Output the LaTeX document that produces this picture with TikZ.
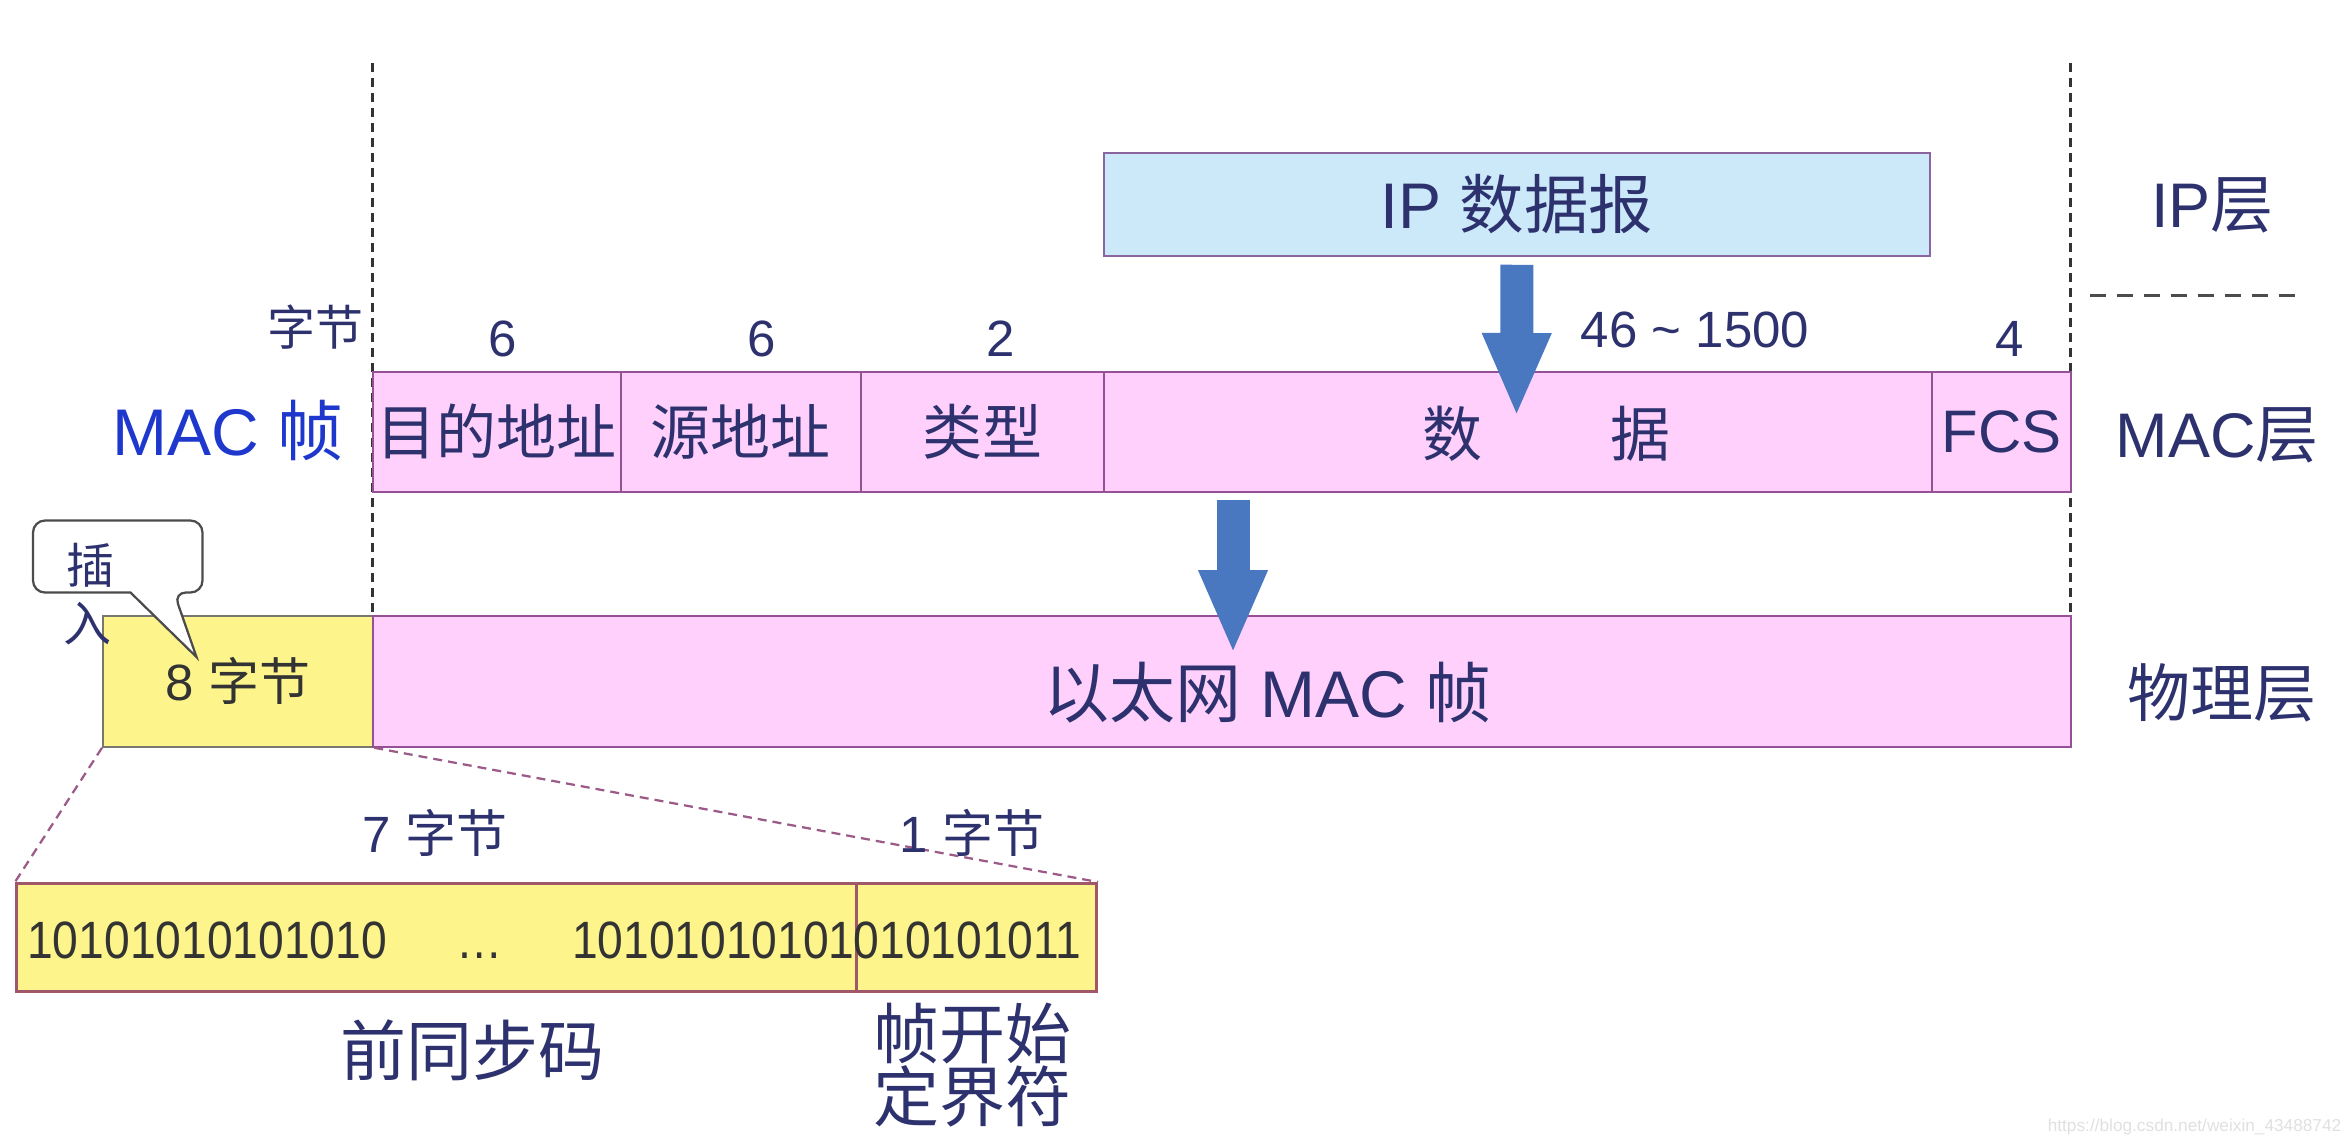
\documentclass[tikz,border=0pt]{standalone}
\usepackage{fontspec}
\setmainfont{Liberation Sans}
\newfontfamily\zh{Noto Sans CJK SC}
\newfontfamily\bitfont[FakeStretch=0.88]{Liberation Sans}
\usetikzlibrary{arrows.meta}
\newcommand{\fsz}[1]{\fontsize{#1}{#1}\selectfont}
\definecolor{navy}{RGB}{45,50,110}
\definecolor{macblue}{RGB}{30,55,205}
\definecolor{macpink}{RGB}{255,208,252}
\definecolor{macline}{RGB}{150,80,150}
\definecolor{ipblue}{RGB}{204,233,250}
\definecolor{ipline}{RGB}{140,100,160}
\definecolor{preyellow}{RGB}{253,245,140}
\definecolor{preline}{RGB}{120,120,110}
\definecolor{bitline}{RGB}{160,88,104}
\definecolor{arrowblue}{RGB}{74,120,192}
\definecolor{zoomline}{RGB}{155,90,135}
\tikzset{
  field/.style={draw=macline, fill=macpink, line width=1.5pt, anchor=north west,
    inner sep=0pt, minimum height=80pt, text=navy, font=\fsz{40}\zh},
  txt/.style={text=navy, inner sep=0pt},
  num/.style={txt, font=\fsz{34}},
  layer/.style={txt, font=\fsz{42}},
  bits/.style={text=black!80, inner sep=0pt, anchor=base, font=\fsz{35}\bitfont},
  bigarrow/.style={arrowblue, line width=22pt, -{Triangle[width=42pt,length=56pt]}},
  vdash/.style={black!80, line width=2pt, dash pattern=on 6pt off 4pt},
  zoomdash/.style={zoomline, line width=1.5pt, dash pattern=on 6pt off 4pt},
}
\begin{document}
\begin{tikzpicture}[x=1pt,y=-1pt]
\useasboundingbox (0,0) rectangle (1567.3,763.3);
% layer borders
\draw[vdash] (248,42) -- (248,410);
\draw[vdash] (1380,42) -- (1380,410);
\draw[black!70, line width=1.5pt, dash pattern=on 11pt off 7pt] (1393,197) -- (1530,197);
% IP layer
\node[draw=ipline, fill=ipblue, line width=1.5pt, anchor=north west, inner sep=0pt,
  minimum width=551pt, minimum height=69pt, text=navy, font=\fsz{43}] (ip) at (735,101) {IP {\zh 数据报}};
% MAC frame
\node[field, minimum width=165pt] (dst) at (248,247) {目的地址};
\node[field, minimum width=160pt] (src) at (413,247) {源地址};
\node[field, minimum width=162pt] (type) at (573,247) {类型};
\node[field, minimum width=552pt] (data) at (735,247) {};
\node[field, minimum width=93pt, font=\fsz{40}] (fcs) at (1287,247) {FCS};
\node[txt, font=\fsz{40}\zh] (datatxt) at (1031,289) {数\hspace{85pt}据};
\node[num, font=\fsz{32}\zh] (unit) at (210,218) {字节};
\node[num] (ndst) at (335,226) {6};
\node[num] (nsrc) at (508,226) {6};
\node[num] (ntype) at (667,226) {2};
\node[num] (ndata) at (1130,220) {46 \textasciitilde{} 1500};
\node[num] (nfcs) at (1340,226) {4};
\node[txt, text=macblue, font=\fsz{44}] (maclabel) at (152,287) {MAC {\zh 帧}};
% physical layer
\node[draw=preline, fill=preyellow, line width=1.5pt, anchor=north west, inner sep=0pt,
  minimum width=180pt, minimum height=87pt, text=black!80, font=\fsz{34}] (pre) at (68,410) {8 {\zh 字节}};
\node[draw=macline, fill=macpink, line width=1.5pt, anchor=north west, inner sep=0pt,
  minimum width=1132pt, minimum height=87pt] (eth) at (248,410) {};
\node[txt, font=\fsz{44}] (ethtxt) at (845,462) {{\zh 以太网} MAC {\zh 帧}};
% arrows
\coordinate (ipto) at (1011,278);
\coordinate (macfrom) at (822,333);
\coordinate (ethto) at (822,436);
\draw[bigarrow, shorten <=5pt] (ip.south) -- (ipto);
\draw[bigarrow] (macfrom) -- (ethto);
% callout
\draw[draw=black!70, fill=white, line width=1.5pt, rounded corners=8pt]
  (87,395) -- (22,395) -- (22,347) -- (135,347) -- (135,395) -- (116,395)
  [sharp corners] -- (131,438) -- cycle;
\node[txt, font=\fsz{32}\zh] (ins1) at (60,377) {插};
\node[txt, font=\fsz{32}\zh] (ins2) at (58,416) {入};
% right labels
\node[layer] (iplayer) at (1475,137) {IP{\zh 层}};
\node[layer] (maclayer) at (1478,290) {MAC{\zh 层}};
\node[layer, font=\fsz{42}\zh] (phylayer) at (1481,462) {物理层};
% preamble detail
\node[draw=bitline, fill=preyellow, line width=2pt, anchor=north west, inner sep=0pt,
  minimum width=560pt, minimum height=72pt] (sync) at (10,588) {};
\node[draw=bitline, fill=preyellow, line width=2pt, anchor=north west, inner sep=0pt,
  minimum width=160pt, minimum height=72pt] (sfd) at (570,588) {};
\draw[zoomdash] (pre.south west) -- (sync.north west);
\draw[zoomdash] (pre.south east) -- (sfd.north east);
\node[bits, anchor=base west] (b1) at (18,639) {10101010101010};
\node[bits] (dots) at (320,639) {\dots};
\node[bits, anchor=base east] (b2) at (570,639) {10101010101};
\node[bits, anchor=base west] (b3) at (569,639) {010101011};
\node[num] (n7) at (290,555) {7 {\zh 字节}};
\node[num] (n1) at (648,555) {1 {\zh 字节}};
\node[txt, font=\fsz{44}\zh] (synctxt) at (315,700) {前同步码};
\node[txt, font=\fsz{44}\zh, align=center] (sfdtxt) at (648,710) {帧开始\\[-2pt]定界符};
% watermark
\node[text=black!12, inner sep=0pt, anchor=east, font=\fsz{11.5}] (mark) at (1561,751) {https://blog.csdn.net/weixin\_43488742};
\end{tikzpicture}
\end{document}
